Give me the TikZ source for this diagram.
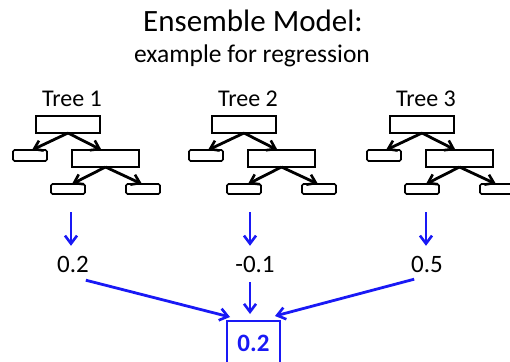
\documentclass[tikz,border=0pt]{standalone}
\usepackage{fontspec}
\setmainfont{Carlito}
\usetikzlibrary{arrows.meta}
\definecolor{flowblue}{RGB}{25,25,245}
\tikzset{
  every node/.style={inner sep=0pt, outer sep=0pt},
  splitbox/.style={draw=black, line width=1.6pt, minimum width=64pt, minimum height=17pt},
  leafbox/.style={draw=black, line width=1.6pt, rounded corners=1.5pt, minimum width=34pt, minimum height=11pt},
  branch/.style={draw=black, line width=2.8pt, -{Straight Barb[length=8pt,width=11pt,line width=2.6pt]}},
  flow/.style={draw=flowblue, line width=2.8pt, -{Straight Barb[length=8pt,width=12pt,line width=2.6pt]}},
  treelabel/.style={font=\fontsize{24}{28}\selectfont, anchor=base},
  value/.style={font=\fontsize{25}{30}\selectfont, anchor=base},
}
\begin{document}
\begin{tikzpicture}[x=1pt, y=-1pt]
\useasboundingbox (0,0) rectangle (510,361);
\clip (0,0) rectangle (510,361);

% title
\node[anchor=base, font=\fontsize{31}{37}\selectfont] (title) at (253,31) {Ensemble Model:};
\node[anchor=base, font=\fontsize{25.5}{30}\selectfont] (subtitle) at (252,62) {example for regression};

% three regression trees
\foreach \i/\dx in {1/0, 2/176, 3/354} {
  \begin{scope}[xshift=\dx pt]
    \node[treelabel] (lab\i) at (72,106) {Tree \i};
    \node[splitbox] (root\i) at (68,124.5) {};
    \node[leafbox] (leafa\i) at (30,155.5) {};
    \node[splitbox, minimum width=67pt] (mid\i) at (105.5,158.5) {};
    \node[leafbox, minimum height=10pt] (leafb\i) at (68,189) {};
    \node[leafbox, minimum height=10pt] (leafc\i) at (143,189) {};
    \draw[branch] (root\i.south) -- ([xshift=2pt]leafa\i.north);
    \draw[branch] (root\i.south) -- ([xshift=-4pt]mid\i.north);
    \draw[branch] (mid\i.south) -- ([xshift=4pt]leafb\i.north);
    \draw[branch] (mid\i.south) -- ([xshift=-1pt]leafc\i.north);
  \end{scope}
}

% predictions of the trees
\node[value] (v1) at (73,272) {0.2};
\node[value] (v2) at (255,272) {-0.1};
\node[value] (v3) at (427,272) {0.5};

\coordinate (out1) at (71,212);
\coordinate (out2) at (250,212);
\coordinate (out3) at (426,212);
\draw[flow, shorten >=10pt] (out1) -- (out1 |- v1.north);
\draw[flow, shorten >=10pt] (out2) -- (out2 |- v2.north);
\draw[flow, shorten >=10pt] (out3) -- (out3 |- v3.north);

% averaged result
\node[draw=flowblue, line width=1.6pt, minimum width=53pt, minimum height=44pt, anchor=north,
      text=flowblue, font=\fontsize{25}{30}\selectfont\bfseries] (res) at (253.5,321)
      {\raisebox{-6pt}{0.2}};

\draw[flow] ([shift={(-3,8)}]v1.south east) -- ([shift={(3,-4)}]res.north west);
\draw[flow] ([shift={(-5,10)}]v2.south) -- ([shift={(-3.5,-7)}]res.north);
\draw[flow] ([shift={(3,7)}]v3.south west) -- ([shift={(-5,-5)}]res.north east);
\end{tikzpicture}
\end{document}
